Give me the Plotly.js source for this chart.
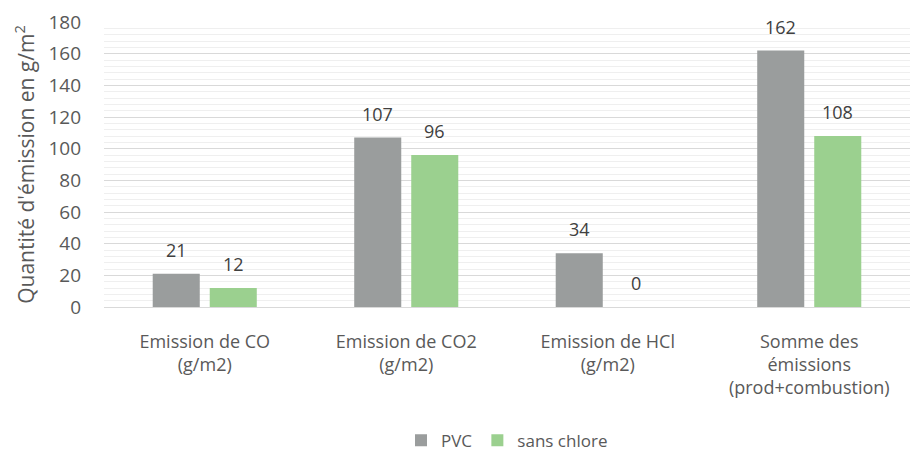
<!DOCTYPE html>
<html><head><meta charset="utf-8">
<script src="https://cdn.plot.ly/plotly-3.0.1.min.js"></script>
<style>html,body{margin:0;padding:0;background:#fff}#c{width:914px;height:459px}</style>
</head><body><div id="c"></div>
<script>
const categories = ["Emission de CO<br>(g/m2)", "Emission de CO2<br>(g/m2)", "Emission de HCl<br>(g/m2)", "Somme des<br>émissions<br>(prod+combustion)"];
const pvcValues = [21, 107, 34, 162];
const sansChloreValues = [12, 96, 0, 108];
const seriesNames = ["PVC", "sans chlore"];
const yTickValues = [0, 20, 40, 60, 80, 100, 120, 140, 160, 180];

const font = "Open Sans, Noto Sans, sans-serif";
const labelFont = {size: 18, color: "#404040", family: font};
const traces = [
  {type: "bar", name: seriesNames[0], x: categories, y: pvcValues, marker: {color: "#9a9d9d"}},
  {type: "bar", name: seriesNames[1], x: categories, y: sansChloreValues, marker: {color: "#9bd08f"}}
];
const annotations = [];
[pvcValues, sansChloreValues].forEach((vals, si) => {
  vals.forEach((v, i) => {
    annotations.push({x: categories[i], y: v, xref: "x", yref: "y", text: String(v), showarrow: false,
      xanchor: "center", yanchor: "bottom", xshift: si === 0 ? -28.5 : 28.5, yshift: 10, font: labelFont});
  });
});
const layout = {
  width: 914, height: 459,
  margin: {l: 104, r: 4, t: 22, b: 152},
  paper_bgcolor: "#fff", plot_bgcolor: "#fff",
  font: {family: font, color: "#595959", size: 17},
  barmode: "group", bargap: 0.434, bargroupgap: 0.175,
  showlegend: true,
  legend: {orientation: "h", x: 0.5, xanchor: "center", yref: "container", y: 0.04, yanchor: "middle", font: {size: 17, color: "#595959"}, traceorder: "normal"},
  xaxis: {type: "category", showgrid: false, showline: true, linecolor: "#d9d9d9", linewidth: 1, ticks: "",
    tickfont: {size: 18, color: "#595959"}, ticklabelstandoff: 18, automargin: false},
  yaxis: {range: [0, 180], tickvals: yTickValues, showgrid: true, gridcolor: "#d9d9d9", gridwidth: 1, zeroline: false,
    showline: false, ticks: "", tickfont: {size: 19, color: "#595959"}, ticklabelstandoff: 22,
    minor: {dtick: 4, showgrid: true, gridcolor: "#efefef", gridwidth: 1},
    title: {text: "Quantité d'émission en g/m<sup>2</sup>", font: {size: 21, color: "#595959"}, standoff: 8}, automargin: false},
  annotations: annotations
};
Plotly.newPlot("c", traces, layout, {displayModeBar: false, staticPlot: true});
</script></body></html>
